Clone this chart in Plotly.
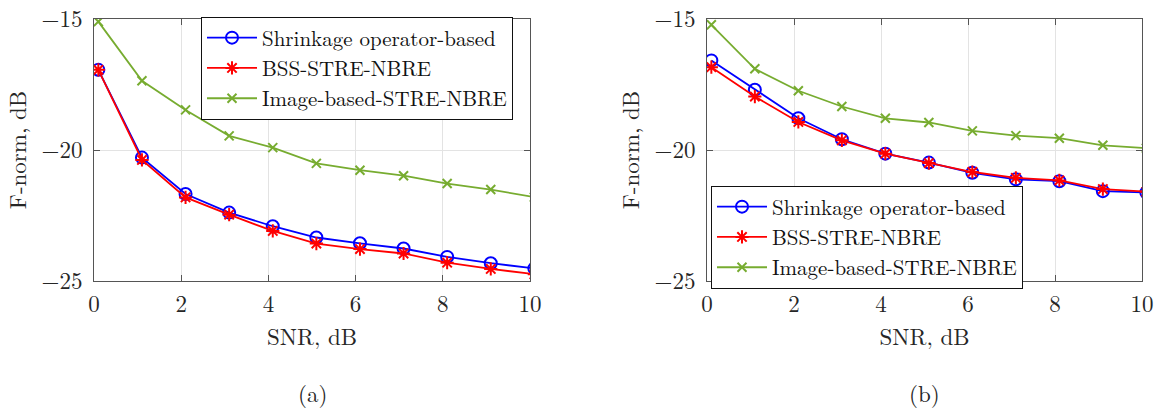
import plotly.graph_objects as go

# ---------------- data ----------------
snr = [0.1, 1.1, 2.1, 3.1, 4.1, 5.1, 6.1, 7.1, 8.1, 9.1, 10.1]

a_shrink = [-16.94, -20.29, -21.68, -22.39, -22.91, -23.34, -23.56, -23.76, -24.08, -24.32, -24.52]
a_bss    = [-16.94, -20.38, -21.81, -22.47, -23.09, -23.57, -23.78, -23.95, -24.30, -24.54, -24.74]
a_image  = [-15.10, -17.36, -18.47, -19.46, -19.91, -20.51, -20.77, -20.98, -21.28, -21.51, -21.80]

b_shrink = [-16.58, -17.70, -18.79, -19.59, -20.14, -20.48, -20.87, -21.12, -21.19, -21.57, -21.62]
b_bss    = [-16.84, -17.96, -18.93, -19.63, -20.14, -20.50, -20.84, -21.06, -21.16, -21.49, -21.59]
b_image  = [-15.22, -16.90, -17.74, -18.34, -18.79, -18.95, -19.27, -19.45, -19.55, -19.82, -19.93]

names = ["Shrinkage operator-based", "BSS-STRE-NBRE", "Image-based-STRE-NBRE"]
x_ticks = [0, 2, 4, 6, 8, 10]
y_ticks = [-25, -20, -15]
captions = ["(a)", "(b)"]

# ---------------- style ----------------
FONT = "Latin Modern Roman"
TXT = "#262626"
colors = ["#0000FF", "#FF0000", "#77AC30"]
symbols = ["circle-open", "asterisk-open", "x-thin-open"]
msizes = [12, 11, 9]

W, H = 1161, 410
fig = go.Figure()

panels = [
    (a_shrink, a_bss, a_image, "x", "y", "legend"),
    (b_shrink, b_bss, b_image, "x2", "y2", "legend2"),
]
for p, (s1, s2, s3, xa, ya, lg) in enumerate(panels):
    for i, ys in enumerate([s1, s2, s3]):
        fig.add_trace(go.Scatter(
            x=snr, y=ys, mode="lines+markers", name=names[i],
            xaxis=xa, yaxis=ya, legend=lg,
            line=dict(color=colors[i], width=1.8),
            marker=dict(symbol=symbols[i], size=msizes[i], color=colors[i],
                        line=dict(color=colors[i], width=2)),
        ))

def px_x(v):
    return v / W

def px_y(v):
    return 1 - v / H

axis_common = dict(
    showline=True, mirror="ticks", linecolor="#555555", linewidth=1,
    ticks="inside", ticklen=6, tickcolor="#555555",
    showgrid=True, gridcolor="#E3E3E3", gridwidth=1,
    zeroline=False, automargin=False,
    tickfont=dict(family=FONT, size=23, color=TXT),
    title_font=dict(family=FONT, size=23, color=TXT),
)

xdoms = [(94, 530), (707, 1142)]
ydom = [px_y(281), px_y(19)]
for k, (x0, x1) in enumerate(xdoms):
    sfx = "" if k == 0 else str(k + 1)
    fig.layout["xaxis" + sfx] = dict(
        axis_common, domain=[px_x(x0), px_x(x1)], range=[0, 10],
        tickvals=x_ticks, anchor="y" + sfx, ticklabelstandoff=2,
        title=dict(text="SNR, dB", standoff=3),
    )
    fig.layout["yaxis" + sfx] = dict(
        axis_common, domain=ydom, range=[-25, -15],
        tickvals=y_ticks, anchor="x" + sfx, ticklabelstandoff=6,
        title=dict(text="F-norm, dB", standoff=8),
    )
    fig.add_annotation(
        text=captions[k], xref="paper", yref="paper",
        x=px_x((x0 + x1) / 2), y=px_y(392), xanchor="center", yanchor="middle",
        showarrow=False, font=dict(family=FONT, size=23, color=TXT),
    )

legend_common = dict(
    bgcolor="white", bordercolor="#111111", borderwidth=1,
    font=dict(family=FONT, size=21, color="#111111"),
    xanchor="left", yanchor="middle", tracegroupgap=0,
    itemsizing="trace", itemwidth=50,
)
fig.update_layout(
    width=W, height=H,
    margin=dict(l=0, r=0, t=0, b=0),
    paper_bgcolor="white", plot_bgcolor="white",
    legend=dict(legend_common, x=px_x(201), y=px_y(68)),
    legend2=dict(legend_common, x=px_x(711), y=px_y(237)),
    showlegend=True,
)

fig.write_html("out.html", config={"displayModeBar": False},
               post_script="document.body.style.margin='0px';")
